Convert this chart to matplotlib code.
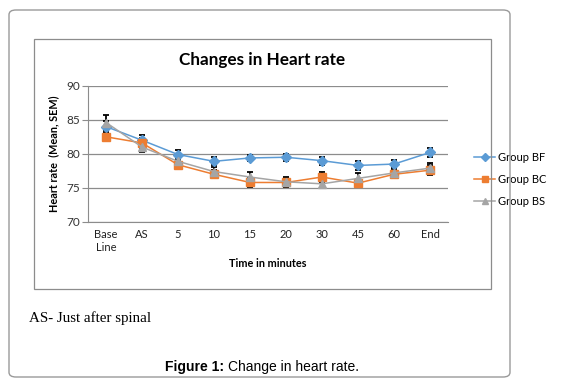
import matplotlib
matplotlib.use("Agg")
import matplotlib.pyplot as plt
from matplotlib.patches import FancyBboxPatch, Rectangle
import numpy as np

categories = ["Base\nLine", "AS", "5", "10", "15", "20", "30", "45", "60", "End"]
bf = [84.0, 82.0, 79.9, 78.9, 79.4, 79.5, 79.0, 78.3, 78.5, 80.2]
bc = [82.5, 81.6, 78.4, 77.0, 75.8, 75.8, 76.6, 75.7, 77.0, 77.6]
bs = [84.6, 81.0, 78.9, 77.4, 76.6, 75.9, 75.6, 76.4, 77.2, 77.9]
bf_sem = [0.8, 0.7, 0.7, 0.6, 0.5, 0.5, 0.6, 0.6, 0.6, 0.6]
bc_sem = [0.6, 0.7, 0.5, 0.6, 0.6, 0.6, 0.7, 0.6, 0.6, 0.7]
bs_sem = [1.1, 0.8, 0.6, 0.7, 0.8, 0.7, 0.6, 0.8, 0.7, 0.7]
series_names = ["Group BF", "Group BC", "Group BS"]
colors = ["#5B9BD5", "#ED7D31", "#A5A5A5"]
markers = ["D", "s", "^"]

fig = plt.figure(figsize=(5.8, 3.91), dpi=100)

outer = FancyBboxPatch((9/580, 1 - 377/391), (510-9)/580, (377-10)/391,
                       boxstyle="round,pad=0,rounding_size=0.012",
                       transform=fig.transFigure, fill=False,
                       edgecolor="#9a9a9a", linewidth=1.0)
fig.patches.append(outer)
inner = Rectangle((34/580, 1 - 289/391), (491-34)/580, (289-39)/391,
                  transform=fig.transFigure, fill=False,
                  edgecolor="#8c8c8c", linewidth=0.9)
fig.patches.append(inner)

ax = fig.add_axes([88/580, 1 - 222/391, 360/580, (222-85.7)/391])
x = np.arange(len(categories))

for vals, sem in zip([bf, bc, bs], [bf_sem, bc_sem, bs_sem]):
    ax.errorbar(x, vals, yerr=sem, fmt="none", ecolor="black",
                elinewidth=1.3, capsize=2.2, capthick=1.3, zorder=2)
for vals, name, c, m in zip([bf, bc, bs], series_names, colors, markers):
    ms = 4.8 if m == "D" else 5.2
    ax.plot(x, vals, color=c, marker=m, markersize=ms, linewidth=1.1,
            label=name, zorder=3)

ax.set_xlim(-0.5, len(categories) - 0.5)
ax.set_ylim(70, 90)
ax.set_yticks([70, 75, 80, 85, 90])
ax.set_xticks(x)
ax.set_xticklabels(categories)
ax.yaxis.grid(True, color="#8c8c8c", linewidth=0.9)
ax.set_axisbelow(True)
for s in ["top", "right"]:
    ax.spines[s].set_visible(False)
ax.spines["left"].set_color("#8c8c8c")
ax.spines["bottom"].set_color("#8c8c8c")
ax.tick_params(axis="y", length=4, color="#8c8c8c", labelsize=8.5,
               labelcolor="#333333", pad=2)
ax.tick_params(axis="x", length=0, labelsize=8, labelcolor="#222222", pad=5)
for lbl in ax.get_xticklabels() + ax.get_yticklabels():
    lbl.set_fontfamily("Lato")

ax.set_xlabel("Time in minutes", fontfamily="Lato", fontweight="bold",
              fontsize=7.8, labelpad=4)
ax.set_ylabel("Heart rate  (Mean, SEM)", fontfamily="Lato", fontweight="bold",
              fontsize=7.8, labelpad=5)

fig.text(262/580, 1 - 60/391, "Changes in Heart rate", ha="center",
         va="center", fontfamily="Lato", fontweight="bold", fontsize=12.3)

leg = ax.legend(loc="center left", bbox_to_anchor=(1.045, 0.31), frameon=False,
                prop={"family": "Lato", "size": 8}, handlelength=1.9,
                handletextpad=0.25, labelspacing=1.0, markerscale=0.8)

fig.text(29/580, 1 - 318/391, "AS- Just after spinal", ha="left",
         va="center", fontfamily="Liberation Serif", fontsize=10.8)

t1 = fig.text(165/580, 1 - 367/391, "Figure 1:", ha="left", va="center",
              fontfamily="Liberation Sans", fontweight="bold", fontsize=10)
fig.canvas.draw()
bb = t1.get_window_extent()
fig.text(bb.x1 / fig.bbox.width + 3.5/580, 1 - 367/391, "Change in heart rate.",
         ha="left", va="center", fontfamily="Liberation Sans", fontsize=10)

fig.savefig("out.png", dpi=100)
